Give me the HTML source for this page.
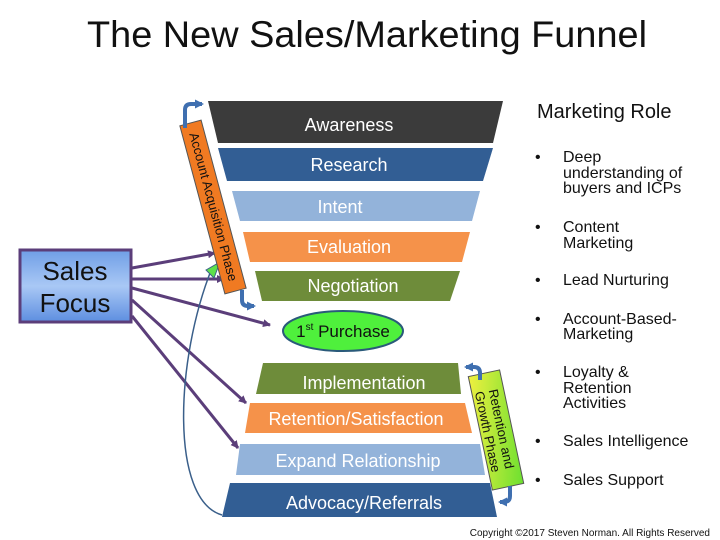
<!DOCTYPE html>
<html><head><meta charset="utf-8"><style>
html,body{margin:0;padding:0;background:#fff;}
svg{display:block;font-family:"Liberation Sans",sans-serif;}
</style></head><body>
<svg width="720" height="540" viewBox="0 0 720 540" xmlns="http://www.w3.org/2000/svg">
<defs>
<linearGradient id="sf" x1="0" y1="0" x2="0" y2="1"><stop offset="0" stop-color="#6f9ee6"/><stop offset="0.5" stop-color="#a9c8f5"/><stop offset="1" stop-color="#5d8ee0"/></linearGradient>
<linearGradient id="gr" x1="0" y1="0" x2="1" y2="1"><stop offset="0" stop-color="#f0f040"/><stop offset="1" stop-color="#6ce030"/></linearGradient>
<marker id="ah" markerWidth="8" markerHeight="8" refX="7" refY="4" orient="auto" markerUnits="userSpaceOnUse"><path d="M0,0 L8,4 L0,8 z" fill="#5b3e7a"/></marker>
<marker id="bh" markerWidth="9" markerHeight="9" refX="7" refY="4.5" orient="auto" markerUnits="userSpaceOnUse"><path d="M0,0 L9,4.5 L0,9 z" fill="#3f6fb0"/></marker>
</defs>
<text x="367" y="47" text-anchor="middle" font-size="37" fill="#111" textLength="560" lengthAdjust="spacingAndGlyphs">The New Sales/Marketing Funnel</text>

<polygon points="208,101 503,101 493,143 218,143" fill="#3b3b3b"/>
<polygon points="218,148 493,148 483,181 227,181" fill="#325e94"/>
<polygon points="232,191 480,191 472,221 240,221" fill="#93b3da"/>
<polygon points="243,232 470,232 462,262 250,262" fill="#f5924a"/>
<polygon points="255,271 460,271 450,301 262,301" fill="#6e8c3a"/>
<g fill="#fff" font-size="18" text-anchor="middle">
<text x="349" y="131">Awareness</text>
<text x="349" y="171">Research</text>
<text x="340" y="213">Intent</text>
<text x="349" y="253">Evaluation</text>
<text x="353" y="292">Negotiation</text>
</g>
<ellipse cx="343" cy="331" rx="60" ry="20" fill="#4ff03c" stroke="#2a5a7a" stroke-width="2"/>
<text x="343" y="337" text-anchor="middle" font-size="17" fill="#111">1<tspan font-size="10" dy="-7">st</tspan><tspan dy="7"> Purchase</tspan></text>

<polygon points="263,363 458,363 461,394 256,394" fill="#6e8c3a"/>
<polygon points="250,403 465,403 472,433 245,433" fill="#f5924a"/>
<polygon points="240,444 480,444 485,475 236,475" fill="#93b3da"/>
<polygon points="230,483 490,483 497,517 222,517" fill="#325e94"/>
<g fill="#fff" font-size="18" text-anchor="middle">
<text x="364" y="389">Implementation</text>
<text x="356" y="425">Retention/Satisfaction</text>
<text x="358" y="467">Expand Relationship</text>
<text x="364" y="509">Advocacy/Referrals</text>
</g>

<rect x="20" y="250" width="111" height="72" fill="url(#sf)" stroke="#5b3e7a" stroke-width="3"/>
<text x="75" y="280" text-anchor="middle" font-size="26" fill="#111">Sales</text>
<text x="75" y="312" text-anchor="middle" font-size="26" fill="#111">Focus</text>

<g stroke="#5b3e7a" stroke-width="3" fill="none" marker-end="url(#ah)">
<line x1="132" y1="268" x2="215" y2="253"/>
<line x1="132" y1="279" x2="224" y2="279"/>
<line x1="132" y1="288" x2="270" y2="325"/>
<line x1="132" y1="300" x2="246" y2="403"/>
<line x1="132" y1="316" x2="238" y2="448"/>
</g>
<path d="M222,515 C170,500 175,360 212,268" stroke="#3a5f8a" stroke-width="1.5" fill="none"/>
<polygon points="206,270 220,262 214,278" fill="#5ee04a" stroke="#3a5f8a" stroke-width="1"/>

<g transform="translate(213,207) rotate(-15)">
<rect x="-11" y="-87" width="22" height="174" fill="#f07a22" stroke="#555" stroke-width="1"/>
<text transform="rotate(90)" x="0" y="-4" text-anchor="middle" font-size="13" fill="#111" dy="8">Account Acquisition Phase</text>
</g>
<path d="M185,128 L185,110 Q185,104 191,104 L202,104" stroke="#3f6fb0" stroke-width="4" fill="none" marker-end="url(#bh)"/>
<path d="M242,290 L242,300 Q242,306 248,306 L254,306" stroke="#3f6fb0" stroke-width="4" fill="none" marker-end="url(#bh)"/>

<g transform="translate(496,430) rotate(-12)">
<rect x="-16" y="-58" width="32" height="116" fill="url(#gr)" stroke="#555" stroke-width="1"/>
<text transform="rotate(90)" text-anchor="middle" font-size="13" fill="#111"><tspan x="0" y="-1">Retention and</tspan><tspan x="0" y="13">Growth Phase</tspan></text>
</g>
<path d="M480,380 L480,373 Q480,367 474,367 L466,367" stroke="#3f6fb0" stroke-width="4" fill="none" marker-end="url(#bh)"/>
<path d="M510,486 L510,496 Q510,502 504,502 L500,502" stroke="#3f6fb0" stroke-width="4" fill="none" marker-end="url(#bh)"/>

<text x="537" y="118" font-size="20" fill="#111">Marketing Role</text>
<g font-size="16" fill="#111">
<text x="535" y="162">•</text><text x="563" y="162">Deep</text><text x="563" y="178">understanding of</text><text x="563" y="193">buyers and ICPs</text>
<text x="535" y="232">•</text><text x="563" y="232">Content</text><text x="563" y="248">Marketing</text>
<text x="535" y="285">•</text><text x="563" y="285">Lead Nurturing</text>
<text x="535" y="324">•</text><text x="563" y="324">Account-Based-</text><text x="563" y="339">Marketing</text>
<text x="535" y="377">•</text><text x="563" y="377">Loyalty &amp;</text><text x="563" y="393">Retention</text><text x="563" y="408">Activities</text>
<text x="535" y="446">•</text><text x="563" y="446">Sales Intelligence</text>
<text x="535" y="485">•</text><text x="563" y="485">Sales Support</text>
</g>
<text x="710" y="536" text-anchor="end" font-size="10" fill="#111">Copyright ©2017 Steven Norman. All Rights Reserved</text>
</svg>
</body></html>
